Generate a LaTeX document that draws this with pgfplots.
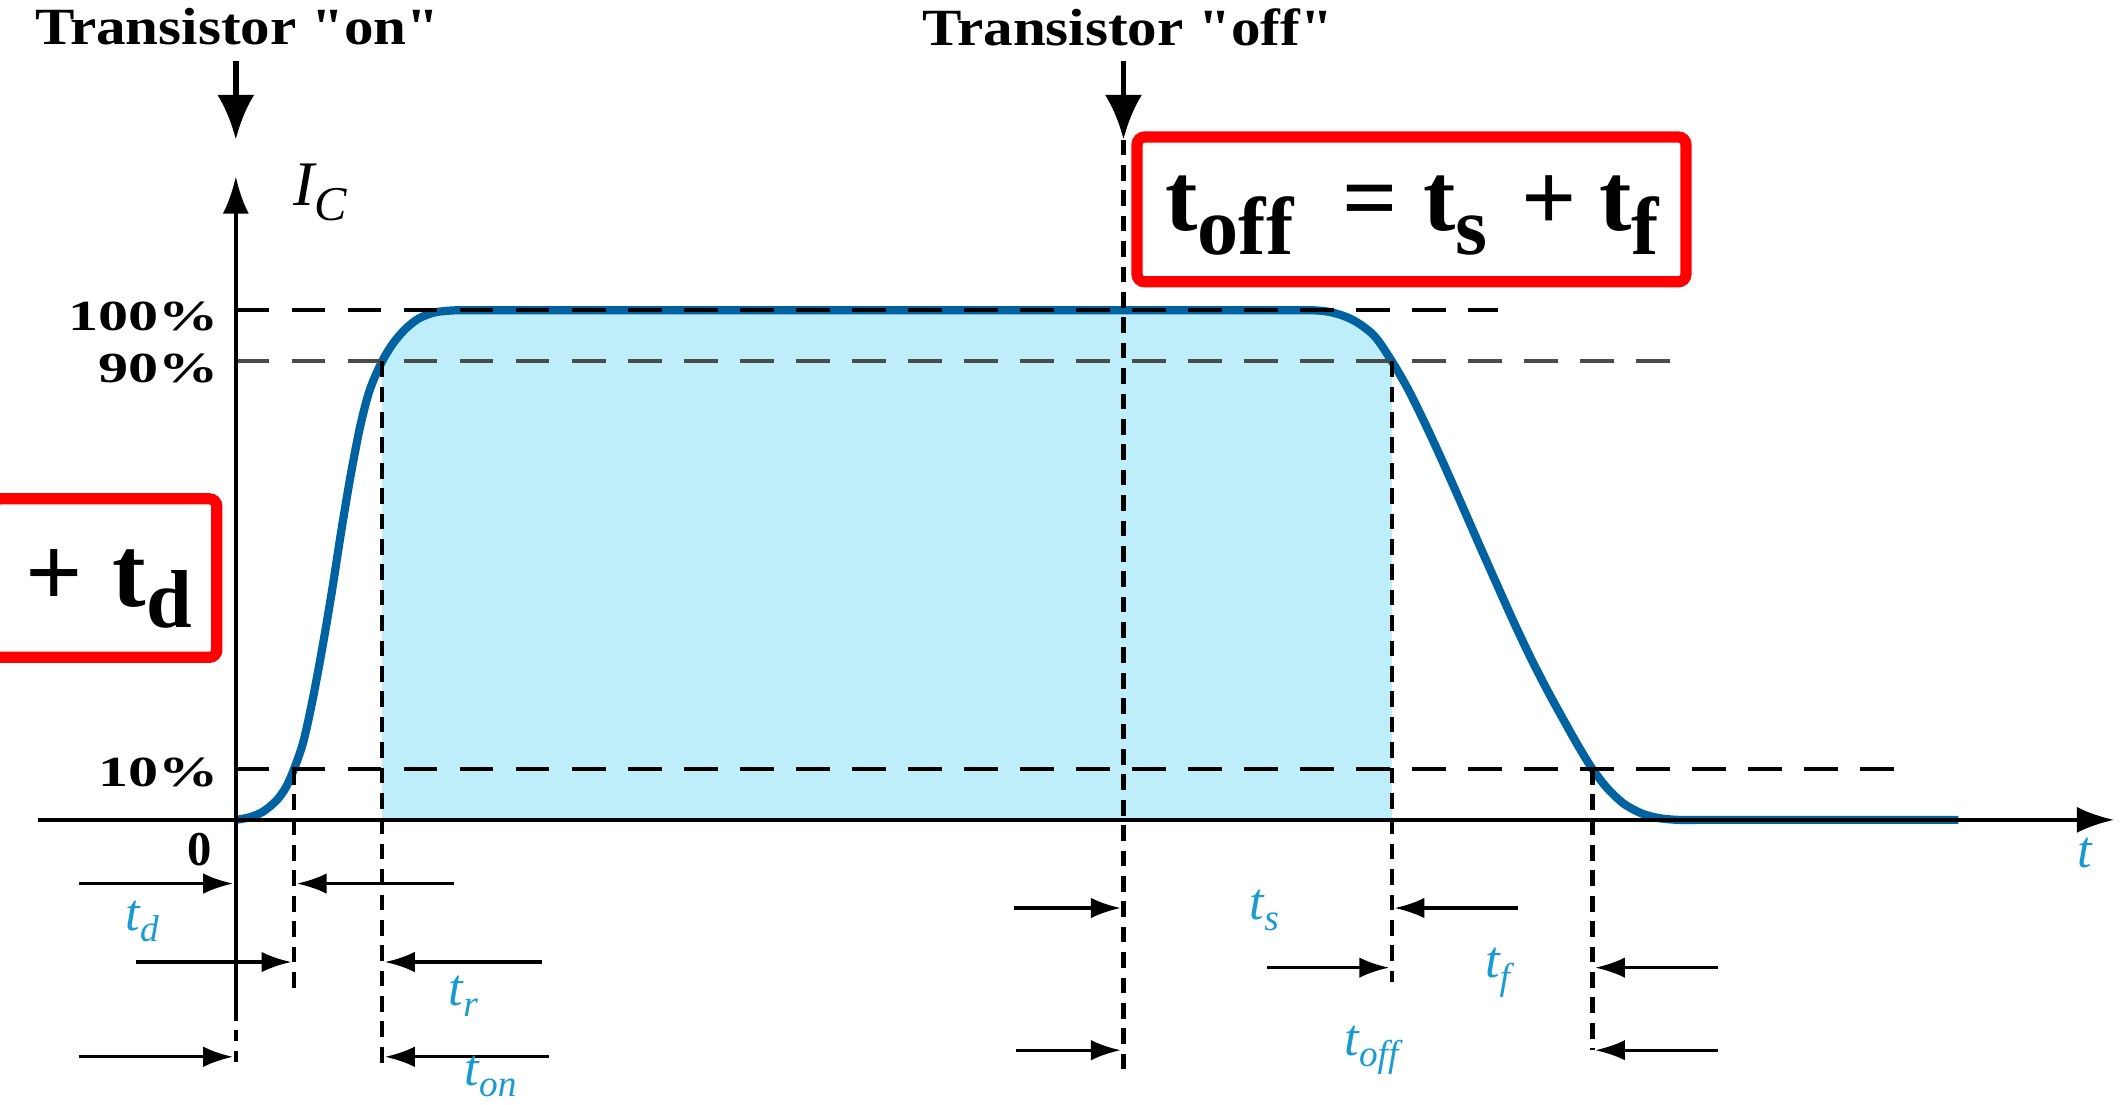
\documentclass[border=0pt]{standalone}
\usepackage{fontspec}
\setmainfont{Liberation Serif}[Ligatures=TeXOff]
\usepackage{pgfplots}
\pgfplotsset{compat=1.18}
\usetikzlibrary{arrows.meta}
\definecolor{curveblue}{RGB}{0,98,160}
\definecolor{fillcyan}{RGB}{190,238,250}
\definecolor{lblblue}{RGB}{25,155,210}
\definecolor{boxred}{RGB}{255,0,0}
\definecolor{dgray}{RGB}{75,75,75}
\tikzset{
  dimarrow/.style={line width=0.9pt, -{Latex[length=8pt,width=5.5pt]}},
  vdash/.style={line width=1.2pt, dash pattern=on 4.2pt off 2.6pt},
  hdash/.style={line width=1.1pt, dash pattern=on 9pt off 6pt},
}
\newcommand{\blab}[2]{{\color{lblblue}\itshape\fontsize{14}{15}\selectfont #1\raisebox{-3pt}{\fontsize{10}{10}\selectfont #2}}}
\newcommand{\bsub}[1]{\raisebox{-6.5pt}{\fontsize{22}{22}\selectfont #1}}
\begin{document}
\begin{tikzpicture}
\begin{axis}[name=main, scale only axis, width=20cm, height=10.395cm,
  xmin=-17.4, xmax=139.4, ymin=-55.85, ymax=160.9, hide axis, clip=false]
% shaded area
\addplot[draw=none, fill=fillcyan] coordinates {
 (10.8,0) (10.8,90) (11.6,93.5) (12.5,96.3) (13.5,98.4) (14.7,99.6) (16.2,100)
 (79.5,100) (81,99.5) (82.5,98) (84,95) (85.3,90) (85.3,0)} -- cycle;
% collector current curve
\addplot[curveblue, line width=2.2pt, smooth, tension=0.5] coordinates {
 (0,0) (1,0.5) (2,1.6) (3,3.8) (3.7,6.4) (4.3,10) (5.0,15.5) (5.7,24) (6.4,34)
 (7.1,45) (7.8,57) (8.5,68) (9.2,77.5) (9.9,84.5) (10.8,90) (11.6,93.5)
 (12.5,96.3) (13.5,98.4) (14.7,99.6) (16.2,100) (18,100) (22,100) (30,100)
 (40,100) (50,100) (60,100) (70,100) (76,100) (79.5,100) (81,99.5) (82.5,98)
 (84,95) (85.3,90) (86.5,84.5) (87.8,77.5) (89.1,70) (90.4,62.2) (91.7,54.3)
 (93,46.5) (94.3,38.8) (95.6,31.5) (96.9,24.8) (98.1,19) (99.1,14.3) (100.1,10)
 (101.2,6.2) (102.4,3.2) (103.7,1.3) (105,0.35) (106.4,0) (108,0) (111,0)
 (116,0) (121,0) (127.1,0)};
% horizontal reference lines
\draw[hdash, black] (axis cs:0,100) -- (axis cs:93.1,100);
\draw[hdash, dgray] (axis cs:0,90) -- (axis cs:106.6,90);
\draw[hdash, black] (axis cs:0,10) -- (axis cs:122.6,10);
% vertical reference lines
\draw[vdash] (axis cs:4.3,10) -- (axis cs:4.3,-34.6);
\draw[vdash] (axis cs:10.8,90) -- (axis cs:10.8,-49.2);
\draw[vdash] (axis cs:65.5,133.5) -- (axis cs:65.5,-49.2);
\draw[vdash] (axis cs:85.3,90) -- (axis cs:85.3,-31.9);
\draw[vdash] (axis cs:100.1,10) -- (axis cs:100.1,-45.2);
% axes
\draw[line width=1.1pt, -{Latex[length=10pt,width=7pt]}] (axis cs:-14.6,0) -- (axis cs:138.6,0);
\draw[line width=1.1pt, -{Latex[length=10pt,width=7pt]}] (axis cs:0,-37.2) -- (axis cs:0,126.3);
\draw[line width=1.1pt, dash pattern=on 3pt off 2.5pt] (axis cs:0,-37.2) -- (axis cs:0,-49.2);
% axis labels
\node at (axis cs:6.2,123.2) {\fontsize{17}{18}\selectfont\itshape I\raisebox{-4pt}{\fontsize{13}{13}\selectfont C}};
\node[anchor=east] at (axis cs:-0.3,98.7) {\fontsize{11.5}{12}\selectfont\bfseries\scalebox{1.4}[1]{100\%}};
\node[anchor=east] at (axis cs:-0.3,88.6) {\fontsize{11.5}{12}\selectfont\bfseries\scalebox{1.4}[1]{90\%}};
\node[anchor=east] at (axis cs:-0.3,9.3) {\fontsize{11.5}{12}\selectfont\bfseries\scalebox{1.4}[1]{10\%}};
\node at (axis cs:-2.7,-5.9) {\fontsize{13}{14}\selectfont\bfseries 0};
\node at (axis cs:136.4,-6.6) {\color{lblblue}\itshape\fontsize{14}{15}\selectfont t};
% top annotations
\node at (axis cs:0.1,155.6) {\fontsize{14}{16}\selectfont\bfseries\scalebox{1.13}[1]{Transistor "on"}};
\node at (axis cs:65.8,155.6) {\fontsize{14}{16}\selectfont\bfseries\scalebox{1.13}[1]{Transistor "off"}};
\draw[line width=1.6pt, -{Latex[length=12pt,width=10pt]}] (axis cs:0,148.9) -- (axis cs:0,133.5);
\draw[line width=1.6pt, -{Latex[length=12pt,width=10pt]}] (axis cs:65.5,148.9) -- (axis cs:65.5,133.5);
% dimension arrows (turn-on)
\draw[dimarrow] (axis cs:-11.6,-12.5) -- (axis cs:-0.2,-12.5);
\draw[dimarrow] (axis cs:16.1,-12.5) -- (axis cs:4.5,-12.5);
\draw[dimarrow] (axis cs:-7.4,-27.9) -- (axis cs:4.1,-27.9);
\draw[dimarrow] (axis cs:22.6,-27.9) -- (axis cs:11.0,-27.9);
\draw[dimarrow] (axis cs:-11.6,-46.5) -- (axis cs:-0.2,-46.5);
\draw[dimarrow] (axis cs:23.1,-46.5) -- (axis cs:11.0,-46.5);
% dimension arrows (turn-off)
\draw[dimarrow] (axis cs:57.4,-17.3) -- (axis cs:65.3,-17.3);
\draw[dimarrow] (axis cs:94.6,-17.3) -- (axis cs:85.5,-17.3);
\draw[dimarrow] (axis cs:76.1,-29.0) -- (axis cs:85.1,-29.0);
\draw[dimarrow] (axis cs:109.4,-29.0) -- (axis cs:100.3,-29.0);
\draw[dimarrow] (axis cs:57.6,-45.2) -- (axis cs:65.3,-45.2);
\draw[dimarrow] (axis cs:109.4,-45.2) -- (axis cs:100.3,-45.2);
% blue labels
\node at (axis cs:-6.9,-19.9) {\blab{t}{d}};
\node at (axis cs:16.8,-34.6) {\blab{t}{r}};
\node at (axis cs:18.8,-50.4) {\blab{t}{on}};
\node at (axis cs:75.9,-17.8) {\blab{t}{s}};
\node at (axis cs:93.1,-30.0) {\blab{t}{f}};
\node at (axis cs:83.8,-45.2) {\blab{t}{off}};
% red boxes
\draw[boxred, fill=white, line width=3pt, rounded corners=2pt] (axis cs:66.5,134.0) rectangle (axis cs:107.0,105.6);
\node[anchor=base] at (axis cs:86.8,115.7) {\bfseries\fontsize{26}{28}\selectfont t\bsub{off}\hspace{13pt}=\hspace{7pt}t\bsub{s}\hspace{9pt}+\hspace{6pt}t\bsub{f}};
\draw[boxred, fill=white, line width=3pt, rounded corners=2pt] (axis cs:-17.9,63.0) rectangle (axis cs:-1.4,31.9);
\node[anchor=base] at (axis cs:-9.4,41.8) {\bfseries\fontsize{27}{28}\selectfont +\hspace{8pt}t\raisebox{-5.5pt}{\fontsize{22}{22}\selectfont d}};
\end{axis}
\pgfresetboundingbox
\path[use as bounding box] (main.south west) rectangle (main.north east);
\end{tikzpicture}
\end{document}
